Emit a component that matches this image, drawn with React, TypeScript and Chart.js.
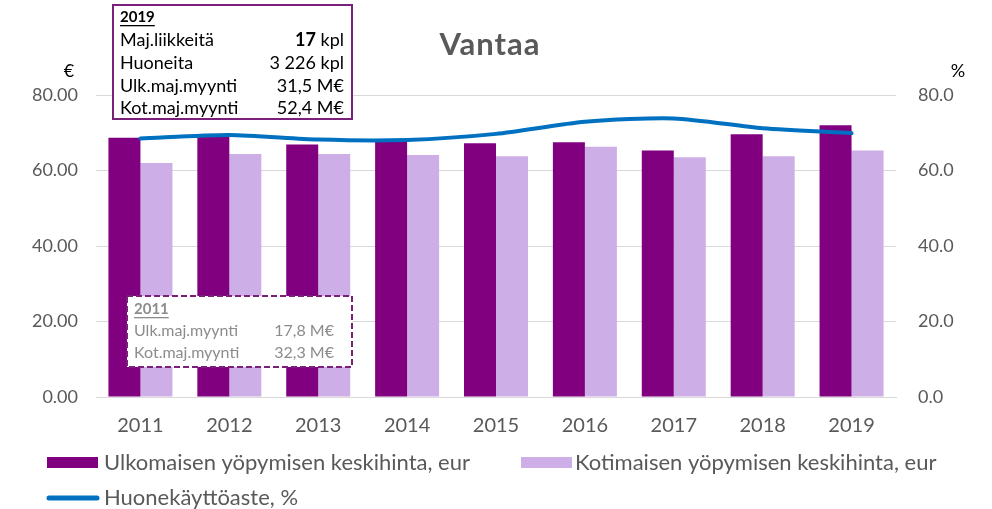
import React, { useEffect, useRef } from "react";
import { Chart, registerables } from "chart.js";

Chart.register(...registerables);

const years = ["2011", "2012", "2013", "2014", "2015", "2016", "2017", "2018", "2019"];
const ulkomainen = [68.7, 69.6, 66.9, 68.2, 67.2, 67.5, 65.3, 69.6, 72.0];
const kotimainen = [62.0, 64.4, 64.4, 64.1, 63.8, 66.3, 63.5, 63.8, 65.3];
const kayttoaste = [68.5, 69.4, 68.2, 68.1, 69.7, 72.9, 73.8, 71.2, 69.9];

const seriesNames = [
  "Ulkomaisen yöpymisen keskihinta, eur",
  "Kotimaisen yöpymisen keskihinta, eur",
  "Huonekäyttöaste, %",
];

const titleText = "Vantaa";
const leftUnit = "€";
const rightUnit = "%";

const box2019Title = "2019";
const box2019Labels = ["Maj.liikkeitä", "Huoneita", "Ulk.maj.myynti", "Kot.maj.myynti"];
const box2019Values = ["17", "3 226", "31,5", "52,4"];
const box2019Units = [" kpl", " kpl", " M€", " M€"];

const box2011Title = "2011";
const box2011Labels = ["Ulk.maj.myynti", "Kot.maj.myynti"];
const box2011Values = ["17,8 M€", "32,3 M€"];

const DARK = "#800080";
const LIGHT = "#CDAEE6";
const BLUE = "#0070C0";
const FONT = "Lato, 'Noto Sans', sans-serif";

const overlayPlugin = {
  id: "overlay",
  afterDraw(chart: any) {
    const ctx = chart.ctx as any;
    ctx.save();
    // title
    ctx.fillStyle = "#595959";
    ctx.font = `bold 31px ${FONT}`;
    ctx.letterSpacing = "1px";
    ctx.textAlign = "center";
    ctx.textBaseline = "middle";
    ctx.fillText(titleText, 490, 45);
    ctx.letterSpacing = "0px";
    // units
    ctx.font = `18px ${FONT}`;
    ctx.fillStyle = "#000";
    ctx.fillText(leftUnit, 69, 71);
    ctx.fillText(rightUnit, 958, 71);

    const underline = (text: string, x: number, y: number) => {
      const w = ctx.measureText(text).width;
      ctx.fillText(text, x, y);
      ctx.fillRect(x, y + 8, w, 1.3);
    };

    // 2019 box
    ctx.fillStyle = "#fff";
    ctx.fillRect(113, 5, 239, 114);
    ctx.strokeStyle = "#7A1F7A";
    ctx.lineWidth = 2;
    ctx.strokeRect(113, 5, 239, 114);
    ctx.textAlign = "left";
    ctx.fillStyle = "#000";
    ctx.font = `bold 15px ${FONT}`;
    underline(box2019Title, 120, 17);
    const rowY = [40, 63, 86, 108];
    box2019Labels.forEach((lab, i) => {
      ctx.font = `18px ${FONT}`;
      ctx.textAlign = "left";
      ctx.fillText(lab, 120, rowY[i]);
      ctx.textAlign = "right";
      const unitW = ctx.measureText(box2019Units[i]).width;
      ctx.fillText(box2019Units[i], 344, rowY[i]);
      if (i === 0) ctx.font = `bold 18px ${FONT}`;
      ctx.fillText(box2019Values[i], 344 - unitW, rowY[i]);
    });

    // 2011 box
    ctx.fillStyle = "#fff";
    ctx.fillRect(127, 296, 225, 71);
    ctx.strokeStyle = "#7A1F7A";
    ctx.lineWidth = 2;
    ctx.setLineDash([6, 3]);
    ctx.strokeRect(127, 296, 225, 71);
    ctx.setLineDash([]);
    ctx.fillStyle = "#8C8C8C";
    ctx.textAlign = "left";
    ctx.font = `bold 15px ${FONT}`;
    underline(box2011Title, 134, 309);
    const rowY2 = [331, 353];
    box2011Labels.forEach((lab, i) => {
      ctx.font = `16px ${FONT}`;
      ctx.textAlign = "left";
      ctx.fillText(lab, 134, rowY2[i]);
      ctx.textAlign = "right";
      ctx.fillText(box2011Values[i], 334, rowY2[i]);
    });

    // legend
    ctx.textAlign = "left";
    ctx.font = `22px ${FONT}`;
    ctx.fillStyle = DARK;
    ctx.fillRect(47, 457, 51, 11);
    ctx.fillStyle = LIGHT;
    ctx.fillRect(521, 457, 51, 11);
    ctx.strokeStyle = BLUE;
    ctx.lineWidth = 5;
    ctx.lineCap = "round";
    ctx.beginPath();
    ctx.moveTo(49, 498);
    ctx.lineTo(97, 498);
    ctx.stroke();
    ctx.fillStyle = "#595959";
    ctx.fillText(seriesNames[0], 104, 463);
    ctx.fillText(seriesNames[1], 575, 463);
    ctx.fillText(seriesNames[2], 104, 498);
    ctx.restore();
  },
};

export default function App() {
  const ref = useRef<HTMLCanvasElement | null>(null);
  useEffect(() => {
    if (!ref.current) return;
    const chart = new Chart(ref.current, {
      type: "bar",
      data: {
        labels: years,
        datasets: [
          {
            type: "line",
            label: seriesNames[2],
            data: kayttoaste,
            yAxisID: "yRight",
            borderColor: BLUE,
            backgroundColor: BLUE,
            borderWidth: 4,
            pointRadius: 0,
            tension: 0.25,
            borderCapStyle: "round",
            order: 0,
          } as any,
          {
            label: seriesNames[0],
            data: ulkomainen,
            backgroundColor: DARK,
            yAxisID: "y",
            categoryPercentage: 0.72,
            barPercentage: 1.0,
            order: 1,
          },
          {
            label: seriesNames[1],
            data: kotimainen,
            backgroundColor: LIGHT,
            yAxisID: "y",
            categoryPercentage: 0.72,
            barPercentage: 1.0,
            order: 1,
          },
        ],
      },
      options: {
        responsive: false,
        animation: false,
        layout: { padding: { top: 95, left: 0, right: 0, bottom: 0 } },
        plugins: { legend: { display: false }, tooltip: { enabled: false }, title: { display: false } },
        scales: {
          x: {
            grid: { display: false, drawTicks: false },
            border: { color: "#d9d9d9", width: 1 },
            ticks: { color: "#595959", font: { family: FONT, size: 20 }, padding: 17 },
            afterFit: (s: any) => {
              s.height = 112;
            },
          },
          y: {
            position: "left",
            min: 0,
            max: 80,
            ticks: {
              stepSize: 20,
              color: "#595959",
              font: { family: FONT, size: 18 },
              padding: 18,
              callback: (v: any) => Number(v).toFixed(2),
            },
            grid: { color: "#d9d9d9", drawTicks: false, lineWidth: 1 },
            border: { display: false },
            afterFit: (s: any) => {
              s.width = 96;
            },
          },
          yRight: {
            position: "right",
            min: 0,
            max: 80,
            ticks: {
              stepSize: 20,
              color: "#595959",
              font: { family: FONT, size: 18 },
              padding: 22,
              callback: (v: any) => Number(v).toFixed(1),
            },
            grid: { drawOnChartArea: false, drawTicks: false },
            border: { display: false },
            afterFit: (s: any) => {
              s.width = 96;
            },
          },
        },
      },
      plugins: [overlayPlugin],
    } as any);
    return () => chart.destroy();
  }, []);
  return (
    <div style={{ position: "absolute", left: 0, top: 0, width: 992, height: 509, background: "#fff" }}>
      <canvas ref={ref} width={992} height={509} />
    </div>
  );
}
